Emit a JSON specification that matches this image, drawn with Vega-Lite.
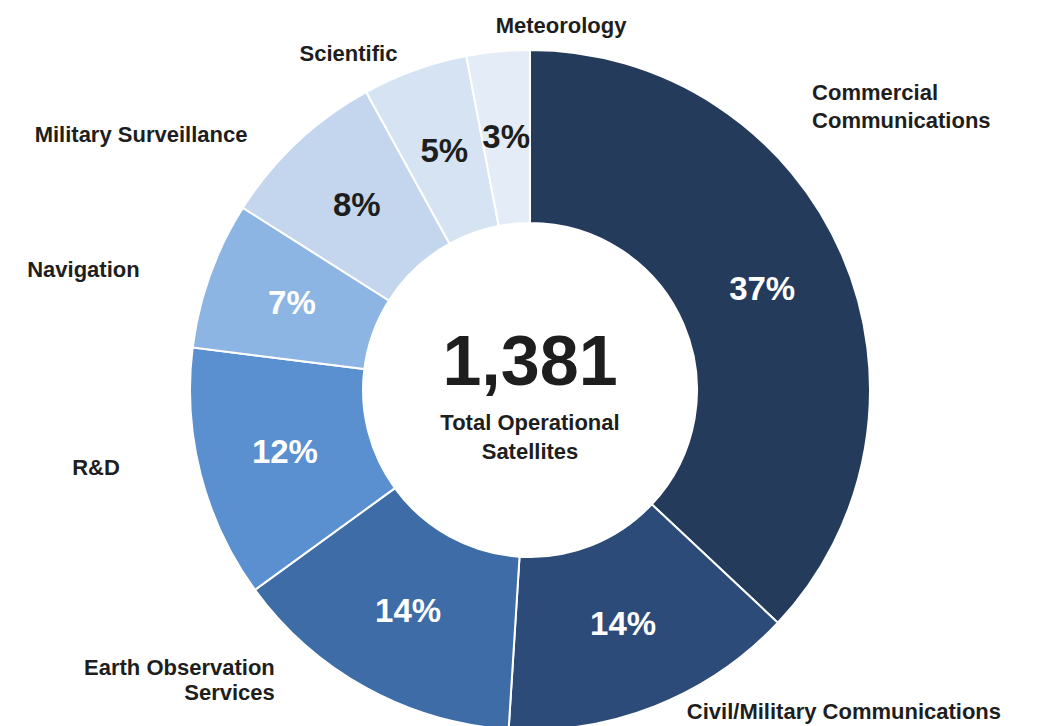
{
  "$schema": "https://vega.github.io/schema/vega-lite/v6.json",
  "autosize": {"type": "none"},
  "width": 1038,
  "height": 672,
  "padding": {"left": 11, "top": 54, "right": 0, "bottom": 0},
  "background": "white",
  "config": {"view": {"stroke": null}, "font": "Liberation Sans"},
  "datasets": {
    "slices": [
      {"cat": "Commercial Communications", "name": "Commercial\nCommunications", "value": 37, "label": "37%", "order": 1},
      {"cat": "Civil/Military Communications", "name": "Civil/Military Communications", "value": 14, "label": "14%", "order": 2},
      {"cat": "Earth Observation Services", "name": "Earth Observation\nServices", "value": 14, "label": "14%", "order": 3},
      {"cat": "R&D", "name": "R&D", "value": 12, "label": "12%", "order": 4},
      {"cat": "Navigation", "name": "Navigation", "value": 7, "label": "7%", "order": 5},
      {"cat": "Military Surveillance", "name": "Military Surveillance", "value": 8, "label": "8%", "order": 6},
      {"cat": "Scientific", "name": "Scientific", "value": 5, "label": "5%", "order": 7},
      {"cat": "Meteorology", "name": "Meteorology", "value": 3, "label": "3%", "order": 8}
    ],
    "center": [
      {"total": "1,381", "caption": "Total Operational\nSatellites"}
    ]
  },
  "data": {"name": "slices"},
  "layer": [
    {
      "mark": {"type": "arc", "outerRadius": 340, "innerRadius": 167, "stroke": "white", "strokeWidth": 2},
      "encoding": {
        "theta": {"field": "value", "type": "quantitative", "stack": true},
        "order": {"field": "order", "type": "quantitative"},
        "color": {
          "field": "cat", "type": "nominal", "legend": null,
          "scale": {
            "domain": ["Commercial Communications", "Civil/Military Communications", "Earth Observation Services", "R&D", "Navigation", "Military Surveillance", "Scientific", "Meteorology"],
            "range": ["#253b5c", "#2c4b78", "#3d6ca6", "#5a8fd0", "#8db5e3", "#c4d6ee", "#d5e3f3", "#e3ecf7"]
          }
        }
      }
    },
    {
      "mark": {"type": "text", "radius": 253, "fontSize": 33, "fontWeight": "bold", "align": "center", "baseline": "middle"},
      "encoding": {
        "theta": {"field": "value", "type": "quantitative", "stack": true},
        "order": {"field": "order", "type": "quantitative"},
        "text": {"field": "label", "type": "nominal"},
        "color": {"condition": {"test": "datum.order <= 5", "value": "white"}, "value": "#1e1e1e"}
      }
    },
    {
      "mark": {"type": "text", "radius": 365, "fontSize": 22, "fontWeight": "bold", "align": "left", "baseline": "middle", "dx": 0, "dy": -1, "color": "#1e1e1e"},
      "encoding": {
        "theta": {"field": "value", "type": "quantitative", "stack": true},
        "order": {"field": "order", "type": "quantitative"},
        "text": {"condition": {"test": "datum.cat === 'Meteorology'", "field": "name"}, "value": ""}
      }
    },
    {
      "mark": {"type": "text", "radius": 356, "fontSize": 22, "fontWeight": "bold", "align": "right", "baseline": "middle", "dx": -12, "dy": -1, "color": "#1e1e1e"},
      "encoding": {
        "theta": {"field": "value", "type": "quantitative", "stack": true},
        "order": {"field": "order", "type": "quantitative"},
        "text": {"condition": {"test": "datum.cat === 'Scientific'", "field": "name"}, "value": ""}
      }
    },
    {
      "mark": {"type": "text", "radius": 350, "fontSize": 22, "fontWeight": "bold", "align": "right", "baseline": "middle", "dx": -43, "dy": 0, "color": "#1e1e1e"},
      "encoding": {
        "theta": {"field": "value", "type": "quantitative", "stack": true},
        "order": {"field": "order", "type": "quantitative"},
        "text": {"condition": {"test": "datum.cat === 'Military Surveillance'", "field": "name"}, "value": ""}
      }
    },
    {
      "mark": {"type": "text", "radius": 400, "fontSize": 22, "fontWeight": "bold", "align": "right", "baseline": "middle", "dx": -14, "dy": 15, "color": "#1e1e1e"},
      "encoding": {
        "theta": {"field": "value", "type": "quantitative", "stack": true},
        "order": {"field": "order", "type": "quantitative"},
        "text": {"condition": {"test": "datum.cat === 'Navigation'", "field": "name"}, "value": ""}
      }
    },
    {
      "mark": {"type": "text", "radius": 410, "fontSize": 22, "fontWeight": "bold", "align": "right", "baseline": "middle", "dx": -13, "dy": -24, "color": "#1e1e1e"},
      "encoding": {
        "theta": {"field": "value", "type": "quantitative", "stack": true},
        "order": {"field": "order", "type": "quantitative"},
        "text": {"condition": {"test": "datum.cat === 'R&D'", "field": "name"}, "value": ""}
      }
    },
    {
      "mark": {"type": "text", "radius": 345, "fontSize": 22, "fontWeight": "bold", "align": "right", "baseline": "middle", "lineBreak": "\n", "lineHeight": 25, "dx": -89, "dy": -24, "color": "#1e1e1e"},
      "encoding": {
        "theta": {"field": "value", "type": "quantitative", "stack": true},
        "order": {"field": "order", "type": "quantitative"},
        "text": {"condition": {"test": "datum.cat === 'Earth Observation Services'", "field": "name"}, "value": ""}
      }
    },
    {
      "mark": {"type": "text", "radius": 350, "fontSize": 22, "fontWeight": "bold", "align": "left", "baseline": "middle", "dx": 28, "dy": -3, "color": "#1e1e1e"},
      "encoding": {
        "theta": {"field": "value", "type": "quantitative", "stack": true},
        "order": {"field": "order", "type": "quantitative"},
        "text": {"condition": {"test": "datum.cat === 'Civil/Military Communications'", "field": "name"}, "value": ""}
      }
    },
    {
      "mark": {"type": "text", "radius": 400, "fontSize": 22, "fontWeight": "bold", "align": "left", "baseline": "middle", "lineBreak": "\n", "lineHeight": 28, "dx": -85, "dy": -138, "color": "#1e1e1e"},
      "encoding": {
        "theta": {"field": "value", "type": "quantitative", "stack": true},
        "order": {"field": "order", "type": "quantitative"},
        "text": {"condition": {"test": "datum.cat === 'Commercial Communications'", "field": "name"}, "value": ""}
      }
    },
    {
      "data": {"name": "center"},
      "mark": {"type": "text", "fontSize": 70, "fontWeight": "bold", "align": "center", "baseline": "middle", "dy": -26, "color": "#1e1e1e"},
      "encoding": {"text": {"field": "total", "type": "nominal"}}
    },
    {
      "data": {"name": "center"},
      "mark": {"type": "text", "fontSize": 22, "fontWeight": "bold", "align": "center", "baseline": "middle", "lineBreak": "\n", "lineHeight": 29, "dy": 33, "color": "#1e1e1e"},
      "encoding": {"text": {"field": "caption", "type": "nominal"}}
    }
  ]
}
